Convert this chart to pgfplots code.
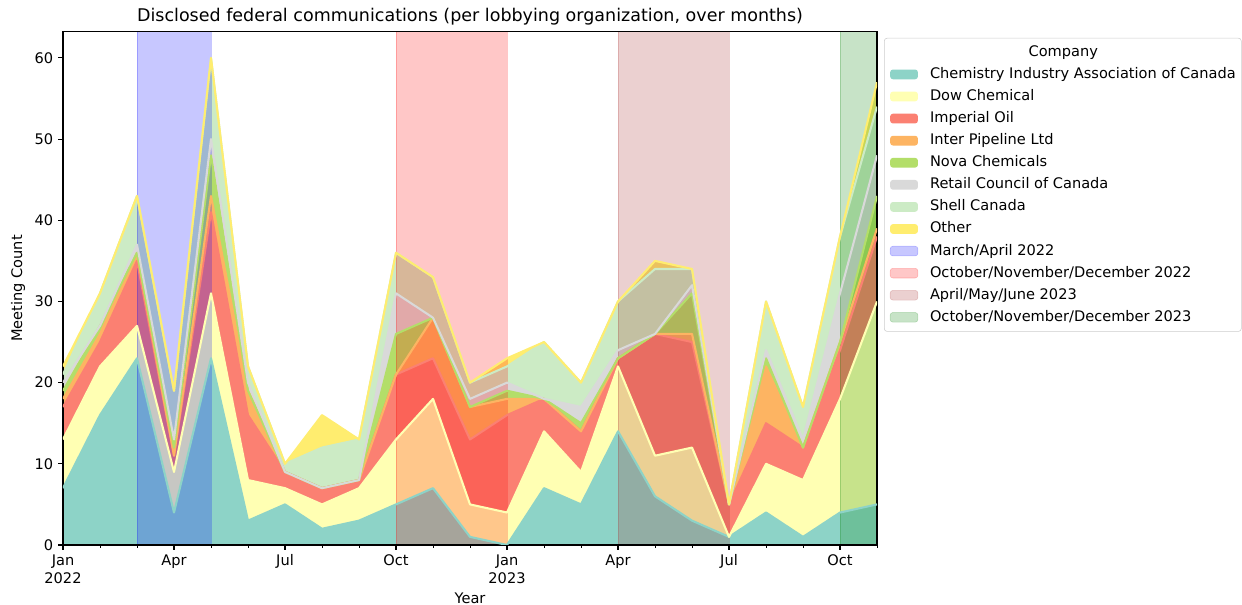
\documentclass[border=0pt]{standalone}
\usepackage{fontspec}
\setmainfont{DejaVu Sans}
\usepackage{pgfplots}
\pgfplotsset{compat=1.18}
\usepackage{pgfplotstable}

\definecolor{ciac}{HTML}{8DD3C7}
\definecolor{dow}{HTML}{FFFFB3}
\definecolor{imp}{HTML}{FB8072}
\definecolor{inter}{HTML}{FDB462}
\definecolor{nova}{HTML}{B3DE69}
\definecolor{retail}{HTML}{D9D9D9}
\definecolor{shell}{HTML}{CCEBC5}
\definecolor{other}{HTML}{FFED6F}
\definecolor{spanblue}{RGB}{0,0,255}
\definecolor{spanred}{RGB}{255,0,0}
\definecolor{spanbrown}{RGB}{165,42,42}
\definecolor{spangreen}{RGB}{0,128,0}
\definecolor{lgdedge}{HTML}{CCCCCC}

% month index 0 = Jan 2022 ... 22 = Nov 2023
\pgfplotstableread{
m  ciac dow imp inter nova retail shell other
0   7   6   4   1   1   1   1   1
1   16  6   3   1   1   0   4   0
2   23  4   8   1   0   1   6   0
3   4   5   2   0   1   1   6   0
4   23  8   10  2   5   2   10  0
5   3   5   8   3   0   1   2   0
6   5   2   2   0   0   0   1   0
7   2   3   2   0   0   0   5   4
8   3   4   1   0   0   0   5   0
9   5   8   8   0   5   5   5   0
10  7   11  5   5   0   0   5   0
11  1   4   8   4   0   1   2   0
12  0   4   12  2   1   1   2   1
13  7   7   4   0   0   0   7   0
14  5   4   5   0   1   2   3   0
15  14  8   1   0   0   1   6   0
16  6   5   15  0   0   0   8   1
17  3   9   13  1   5   1   2   0
18  1   0   4   0   0   0   0   0
19  4   6   5   7   1   1   6   0
20  1   7   4   0   0   1   4   0
21  4   14  6   1   0   6   7   0
22  5   25  8   1   4   5   6   3
}\data

\pgfplotsset{
  base/.style={width=586.1pt, height=369.4pt, scale only axis,
    xmin=0, xmax=22, ymin=0, ymax=63.2, at={(0,0)}, anchor=south west},
}

\begin{document}
\begin{tikzpicture}[font=\fontsize{10.5}{12.6}\selectfont]
\useasboundingbox (-45.36pt,-43.2pt) rectangle (848.88pt,392.4pt);

% ---- axis 1: stacked fills + legend
\begin{axis}[base, hide axis, stack plots=y,
  legend cell align=left,
  legend image code/.code={\path[#1] (0pt,-3.5pt) rectangle (20pt,3.5pt);},
  legend style={at={(1.0086,0.9883)}, anchor=north west,
    draw=lgdedge, rounded corners=2pt, fill=white,
    font=\fontsize{10.5}{12.6}\selectfont,
    nodes={inner sep=0pt, text height=8pt, text depth=2.3pt, anchor=west},
    row sep=5.6pt, column sep=8.5pt, inner xsep=4pt, inner ysep=5pt}]
\addlegendimage{empty legend}
\addlegendentry{\hspace*{71pt}Company}
\addplot[fill=ciac, draw=none] table[x=m, y=ciac]{\data} \closedcycle;
\addlegendentry{Chemistry Industry Association of Canada}
\addplot[fill=dow, draw=none] table[x=m, y=dow]{\data} \closedcycle;
\addlegendentry{Dow Chemical}
\addplot[fill=imp, draw=none] table[x=m, y=imp]{\data} \closedcycle;
\addlegendentry{Imperial Oil}
\addplot[fill=inter, draw=none] table[x=m, y=inter]{\data} \closedcycle;
\addlegendentry{Inter Pipeline Ltd}
\addplot[fill=nova, draw=none] table[x=m, y=nova]{\data} \closedcycle;
\addlegendentry{Nova Chemicals}
\addplot[fill=retail, draw=none] table[x=m, y=retail]{\data} \closedcycle;
\addlegendentry{Retail Council of Canada}
\addplot[fill=shell, draw=none] table[x=m, y=shell]{\data} \closedcycle;
\addlegendentry{Shell Canada}
\addplot[fill=other, draw=none] table[x=m, y=other]{\data} \closedcycle;
\addlegendentry{Other}
\addlegendimage{fill=spanblue, fill opacity=0.22, draw=spanblue, draw opacity=0.22}
\addlegendentry{March/April 2022}
\addlegendimage{fill=spanred, fill opacity=0.22, draw=spanred, draw opacity=0.22}
\addlegendentry{October/November/December 2022}
\addlegendimage{fill=spanbrown, fill opacity=0.22, draw=spanbrown, draw opacity=0.22}
\addlegendentry{April/May/June 2023}
\addlegendimage{fill=spangreen, fill opacity=0.22, draw=spangreen, draw opacity=0.22}
\addlegendentry{October/November/December 2023}
\end{axis}

% ---- axis 2: shaded periods
\begin{axis}[base, hide axis]
\addplot[fill=spanblue, fill opacity=0.22, draw=spanblue, draw opacity=0.22] coordinates {(2,70) (4,70)} \closedcycle;
\addplot[fill=spanred, fill opacity=0.22, draw=spanred, draw opacity=0.22] coordinates {(9,70) (12,70)} \closedcycle;
\addplot[fill=spanbrown, fill opacity=0.22, draw=spanbrown, draw opacity=0.22] coordinates {(15,70) (18,70)} \closedcycle;
\addplot[fill=spangreen, fill opacity=0.22, draw=spangreen, draw opacity=0.22] coordinates {(21,70) (24,70)} \closedcycle;
\end{axis}

% ---- axis 3: stacked lines, frame, ticks, labels
\begin{axis}[base, stack plots=y, reverse stacked plots=false,
  axis line style={line width=0.8pt},
  tick align=outside, xtick pos=bottom, ytick pos=left,
  major tick length=3.5pt, minor tick length=2pt,
  every tick/.style={black, line width=0.8pt},
  minor tick style={black, line width=0.6pt},
  xtick={0,3,6,9,12,15,18,21},
  xticklabels={Jan\\2022, Apr, Jul, Oct, Jan\\2023, Apr, Jul, Oct},
  minor xtick={1,2,4,5,7,8,10,11,13,14,16,17,19,20,22},
  xticklabel style={align=center, font=\fontsize{10.5}{13}\selectfont},
  ytick={0,10,20,30,40,50,60},
  /pgf/number format/assume math mode=true,
  title={Disclosed federal communications (per lobbying organization, over months)},
  every axis title/.style={at={(axis description cs:0.5,1.029)}, anchor=center, font=\fontsize{12.6}{15}\selectfont},
  xlabel={Year},
  every axis x label/.style={at={(axis description cs:0.5,-0.1033)}, anchor=center},
  ylabel={Meeting Count},
  every axis y label/.style={at={(axis description cs:-0.0553,0.5)}, rotate=90, anchor=center},
  every axis plot/.append style={line width=1.5pt, line join=round, no markers}]
\addplot[ciac] table[x=m, y=ciac]{\data};
\addplot[dow] table[x=m, y=dow]{\data};
\addplot[imp] table[x=m, y=imp]{\data};
\addplot[inter] table[x=m, y=inter]{\data};
\addplot[nova] table[x=m, y=nova]{\data};
\addplot[retail] table[x=m, y=retail]{\data};
\addplot[shell] table[x=m, y=shell]{\data};
\addplot[other] table[x=m, y=other]{\data};
\end{axis}
\end{tikzpicture}
\end{document}
